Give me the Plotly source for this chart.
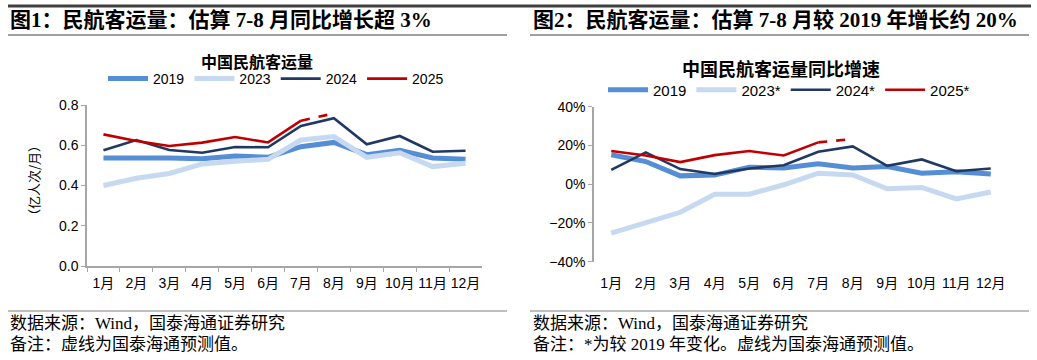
import plotly.graph_objects as go

W, H = 1037, 360

months = ["1月", "2月", "3月", "4月", "5月", "6月", "7月", "8月", "9月", "10月", "11月", "12月"]

# Figure 1: passenger volume (100 million person-trips / month)
vol_2019 = [0.537, 0.540, 0.537, 0.533, 0.547, 0.540, 0.593, 0.614, 0.553, 0.575, 0.537, 0.530]
vol_2023 = [0.400, 0.436, 0.460, 0.507, 0.520, 0.530, 0.626, 0.643, 0.540, 0.563, 0.494, 0.510]
vol_2024 = [0.575, 0.626, 0.576, 0.563, 0.591, 0.590, 0.696, 0.734, 0.605, 0.646, 0.568, 0.573]
vol_2025_actual = [0.654, 0.621, 0.596, 0.613, 0.641, 0.614, 0.722]
vol_2025_forecast = [0.758]

# Figure 2: YoY growth (%)
yoy_2019 = [15.2, 11.7, 4.3, 4.7, 8.8, 8.4, 10.5, 8.4, 9.1, 5.7, 6.4, 5.3]
yoy_2023 = [-25.3, -19.8, -14.5, -5.2, -5.2, -0.3, 5.7, 4.8, -2.4, -1.7, -7.6, -4.0]
yoy_2024 = [7.4, 16.4, 7.8, 5.3, 8.1, 9.8, 16.7, 19.5, 9.5, 12.8, 6.7, 8.1]
yoy_2025_actual = [17.1, 14.8, 11.4, 15.0, 17.1, 14.8, 21.6]
yoy_2025_forecast = [23.3]

C2019 = "#558ED5"
C2023 = "#C6D9F1"
C2024 = "#1F3864"
C2025 = "#C00000"
AXIS = "#A6A6A6"

SANS = "Liberation Sans, Arial, Noto Sans CJK SC"
SERIF = "Liberation Serif, Noto Sans CJK SC"
CJK = "Noto Sans CJK SC"


def px(x):
    return x / W


def py(y):
    return 1 - y / H


fig = go.Figure()


def add_series(xa, ya, leg, names, s19, s23, s24, s25a, s25f):
    fig.add_trace(go.Scatter(x=months, y=s19, name=names[0], mode="lines",
                             line=dict(color=C2019, width=5), xaxis=xa, yaxis=ya, legend=leg))
    fig.add_trace(go.Scatter(x=months, y=s23, name=names[1], mode="lines",
                             line=dict(color=C2023, width=5), xaxis=xa, yaxis=ya, legend=leg))
    fig.add_trace(go.Scatter(x=months, y=s24, name=names[2], mode="lines",
                             line=dict(color=C2024, width=2.6), xaxis=xa, yaxis=ya, legend=leg))
    fig.add_trace(go.Scatter(x=months[:len(s25a)], y=s25a, name=names[3], mode="lines",
                             line=dict(color=C2025, width=2.6), xaxis=xa, yaxis=ya, legend=leg))
    n = len(s25a)
    fig.add_trace(go.Scatter(x=months[n - 1:n + len(s25f)], y=[s25a[-1]] + s25f, mode="lines",
                             line=dict(color=C2025, width=2.6, dash="dash"), showlegend=False,
                             xaxis=xa, yaxis=ya, legend=leg, hoverinfo="skip"))


add_series("x", "y", "legend", ["2019", "2023", "2024", "2025"],
           vol_2019, vol_2023, vol_2024, vol_2025_actual, vol_2025_forecast)
add_series("x2", "y2", "legend2", ["2019", "2023*", "2024*", "2025*"],
           yoy_2019, yoy_2023, yoy_2024, yoy_2025_actual, yoy_2025_forecast)

tickfont = dict(family=SANS, size=14, color="#000")

# domains
l_x = [px(87), px(482)]
l_y = [py(266), py(105)]
r_x = [px(594), px(1008)]
r_y = [py(261.7), py(106.7)]
zero_pos = r_y[0] + (r_y[1] - r_y[0]) / 2

shapes = [
    dict(type="line", xref="paper", yref="paper", x0=px(8), x1=px(1031), y0=py(6), y1=py(6),
         line=dict(color="#404040", width=3)),
    dict(type="line", xref="paper", yref="paper", x0=px(8), x1=px(507), y0=py(35), y1=py(35),
         line=dict(color="#7F7F7F", width=1.5)),
    dict(type="line", xref="paper", yref="paper", x0=px(530), x1=px(1029), y0=py(35), y1=py(35),
         line=dict(color="#7F7F7F", width=1.5)),
    dict(type="line", xref="paper", yref="paper", x0=px(8), x1=px(507), y0=py(311), y1=py(311),
         line=dict(color="#7F7F7F", width=1)),
    dict(type="line", xref="paper", yref="paper", x0=px(530), x1=px(1029), y0=py(311), y1=py(311),
         line=dict(color="#7F7F7F", width=1)),
]

annotations = [
    dict(text="<b>图1：民航客运量：估算 7-8 月同比增长超 3%</b>", x=px(8), y=py(20),
         xanchor="left", yanchor="middle", font=dict(family=SERIF, size=21, color="#000")),
    dict(text="<b>图2：民航客运量：估算 7-8 月较 2019 年增长约 20%</b>", x=px(531), y=py(20),
         xanchor="left", yanchor="middle", font=dict(family=SERIF, size=21, color="#000")),
    dict(text="<b>中国民航客运量</b>", x=px(257), y=py(61), xanchor="center", yanchor="middle",
         font=dict(family=CJK, size=16, color="#000")),
    dict(text="<b>中国民航客运量同比增速</b>", x=px(781), y=py(68), xanchor="center", yanchor="middle",
         font=dict(family=CJK, size=18, color="#000")),
    dict(text="（亿人次/月）", x=px(33), y=py(181), xanchor="center", yanchor="middle", textangle=-90,
         font=dict(family=CJK, size=13, color="#000")),
    dict(text="数据来源：Wind，国泰海通证券研究", x=px(8), y=py(323), xanchor="left", yanchor="middle",
         font=dict(family=SERIF, size=17, color="#000")),
    dict(text="备注：虚线为国泰海通预测值。", x=px(8), y=py(344), xanchor="left", yanchor="middle",
         font=dict(family=SERIF, size=17, color="#000")),
    dict(text="数据来源：Wind，国泰海通证券研究", x=px(531), y=py(323), xanchor="left", yanchor="middle",
         font=dict(family=SERIF, size=17, color="#000")),
    dict(text="备注：*为较 2019 年变化。虚线为国泰海通预测值。", x=px(531), y=py(344), xanchor="left",
         yanchor="middle", font=dict(family=SERIF, size=17, color="#000")),
]
for a in annotations:
    a.update(xref="paper", yref="paper", showarrow=False)

fig.update_layout(
    width=W, height=H,
    margin=dict(l=0, r=0, t=0, b=0, autoexpand=False),
    paper_bgcolor="white", plot_bgcolor="white",
    shapes=shapes, annotations=annotations,
    xaxis=dict(domain=l_x, anchor="y", type="category", categoryorder="array", categoryarray=months,
               range=[-0.5, 11.5], tickson="boundaries", ticks="outside", ticklen=4, tickcolor=AXIS,
               showline=True, linecolor=AXIS, linewidth=1.5, showgrid=False, tickfont=tickfont,
               tickangle=0, automargin=False, ticklabelstandoff=3),
    yaxis=dict(domain=l_y, anchor="x", range=[0, 0.8], dtick=0.2, tickformat=".1f",
               ticks="outside", ticklen=4, tickcolor=AXIS, showline=True, linecolor=AXIS, linewidth=1.5,
               showgrid=False, zeroline=False, tickfont=tickfont, automargin=False),
    xaxis2=dict(domain=r_x, anchor="y2", type="category", categoryorder="array", categoryarray=months,
                range=[-0.5, 11.5], ticks="", showline=False, showgrid=False, tickfont=tickfont,
                tickangle=0, automargin=False, ticklabelstandoff=11),
    xaxis3=dict(domain=r_x, anchor="free", position=zero_pos, overlaying="x2", range=[-0.5, 11.5],
                tick0=-0.5, dtick=1, ticks="outside", ticklen=5, tickcolor=AXIS, showticklabels=False,
                showline=True, linecolor=AXIS, linewidth=1.5, showgrid=False, zeroline=False,
                automargin=False),
    yaxis2=dict(domain=r_y, anchor="x2", range=[-40, 40], dtick=20, ticksuffix="%",
                ticks="outside", ticklen=4, tickcolor=AXIS, showline=True, linecolor=AXIS, linewidth=1.5,
                showgrid=False, zeroline=False, tickfont=tickfont, automargin=False),
    legend=dict(orientation="h", x=px(103), y=py(79), xanchor="left", yanchor="middle",
                font=dict(family=SANS, size=14, color="#000"), bgcolor="rgba(0,0,0,0)",
                itemwidth=40, tracegroupgap=0),
    legend2=dict(orientation="h", x=px(603), y=py(90), xanchor="left", yanchor="middle",
                 font=dict(family=SANS, size=15, color="#000"), bgcolor="rgba(0,0,0,0)",
                 itemwidth=40, tracegroupgap=0),
    showlegend=True,
)

fig.write_html("out.html", config={"displayModeBar": False},
               post_script="document.body.style.margin='0';document.body.style.overflow='hidden';")
